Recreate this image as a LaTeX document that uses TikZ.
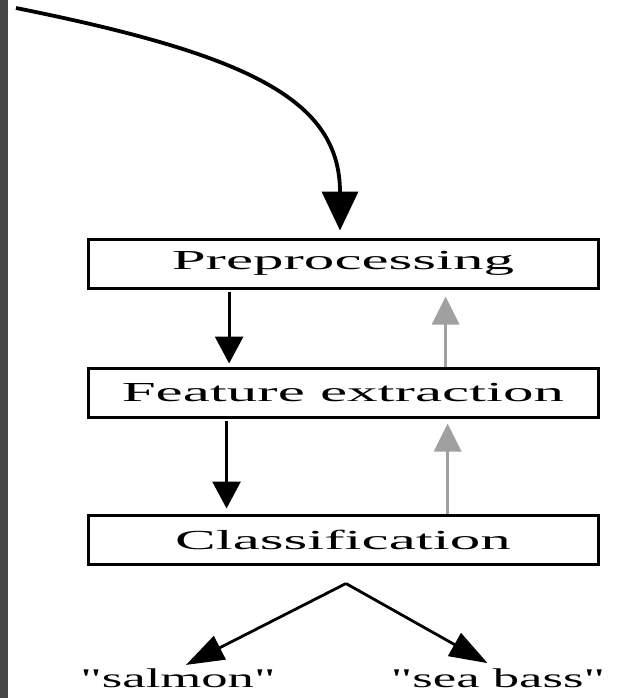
\documentclass[tikz,border=0pt]{standalone}
\usepackage{fontspec}
\usetikzlibrary{calc,positioning,arrows.meta}
\newfontfamily\stagefont{Liberation Serif}[FakeStretch=2.22]
\newfontfamily\classfont{Liberation Serif}[FakeStretch=1.95]
\definecolor{EdgeGray}{RGB}{70,70,70}
\definecolor{FeedGray}{RGB}{160,160,160}
\tikzset{
    stagebox/.style={draw=black,line width=3pt,minimum width=510pt,minimum height=49pt,inner sep=0pt,font=\stagefont\fontsize{27.5}{30}\selectfont},
    classlabel/.style={inner sep=0pt,anchor=north,font=\classfont\fontsize{27}{30}\selectfont},
    inflow/.style={line width=3.8pt,-{Triangle[length=39pt,width=36pt]}},
    downflow/.style={line width=3pt,-{Triangle[length=27pt,width=28pt]}},
    feedback/.style={line width=3pt,FeedGray,-{Triangle[length=28pt,width=27pt]}},
    decision/.style={line width=2.8pt,-{Triangle[length=38pt,width=26pt]}}
}
\begin{document}
\begin{tikzpicture}[x=1pt,y=-1pt]
		\useasboundingbox (0,0) rectangle (617,698);
		% left page edge
		\fill[EdgeGray] (0,0) rectangle (8,698);
		% stages
		\node[stagebox] (pre) at (343,263.5) {Preprocessing};
		\node[stagebox,below=77pt of pre] (feat) {Feature extraction};
		\node[stagebox,below=95pt of feat] (cls) {Classification};
		% incoming curve
		\coordinate (src) at (16,8);
		\draw[inflow,shorten >=7pt] (src) .. controls (250,55) and (340,100) .. ([xshift=-3pt]pre.north);
		% forward and feedback arrows
		\draw[downflow,shorten <=2pt,shorten >=3pt] ($(pre.south west)!0.278!(pre.south east)$) -- ($(feat.north west)!0.278!(feat.north east)$);
		\draw[downflow,shorten <=2pt,shorten >=5pt] ($(feat.south west)!0.273!(feat.south east)$) -- ($(cls.north west)!0.273!(cls.north east)$);
		\draw[feedback,shorten >=7pt] ($(feat.north west)!0.70!(feat.north east)$) -- ($(pre.south west)!0.70!(pre.south east)$);
		\draw[feedback,shorten >=5pt] ($(cls.north west)!0.704!(cls.north east)$) -- ($(feat.south west)!0.704!(feat.south east)$);
		% decisions
		\coordinate (fork) at ([xshift=3pt,yshift=-18pt]cls.south);
		\node[classlabel] (salmon) at (178,669) {"salmon"};
		\node[classlabel] (bass) at (498,669) {"sea bass"};
		\draw[decision,shorten >=9pt] (fork) -- (salmon.north);
		\draw[decision,shorten >=12pt] (fork) -- (bass.north);
\end{tikzpicture}
\end{document}
